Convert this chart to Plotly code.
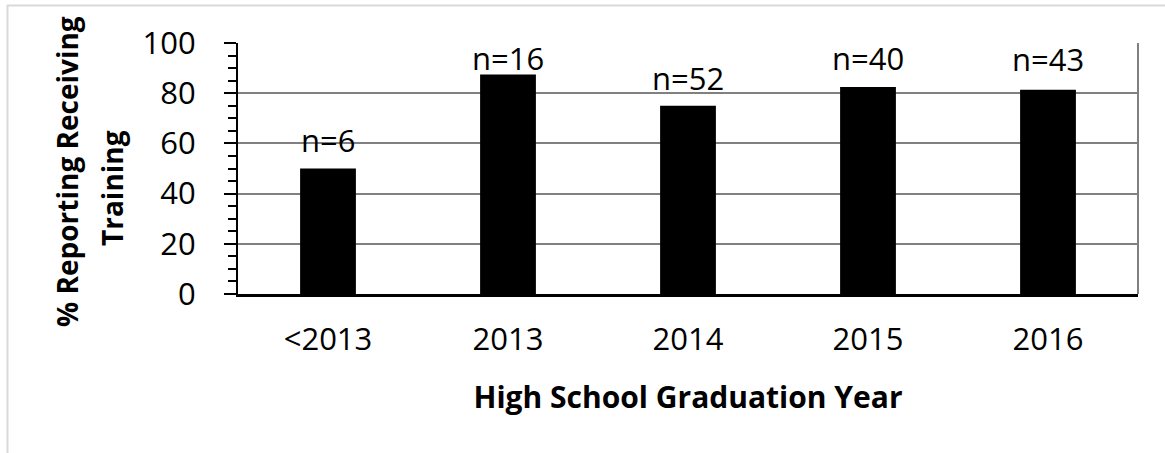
import plotly.graph_objects as go

categories = ["<2013", "2013", "2014", "2015", "2016"]
pct_training = [50.0, 87.5, 75.0, 82.5, 81.4]
n_labels = ["n=6", "n=16", "n=52", "n=40", "n=43"]
y_ticks = [0, 20, 40, 60, 80, 100]
y_title_lines = ["% Reporting Receiving", "Training"]
x_title = "High School Graduation Year"

# pixel gap between bar top and label baseline (style)
label_gap = [15, 2.5, 14, 14.5, 17]

FONT = "Open Sans, Liberation Sans, sans-serif"
W, H = 1165, 453
ML, MR, MT, MB = 238, 27, 43, 159
pw = W - ML - MR
ph = H - MT - MB


def px_x(px):
    return (px - ML) / pw


def px_y(py):
    return (MT + ph - py) / ph


fig = go.Figure()
fig.add_trace(go.Bar(
    x=categories, y=pct_training,
    marker=dict(color="black", line=dict(width=0)),
    width=0.31, hoverinfo="skip",
))

DESC = 9  # approx distance from text box bottom to baseline
for i, (v, t, g) in enumerate(zip(pct_training, n_labels, label_gap)):
    # x given as category index on the category axis
    fig.add_annotation(x=i, y=v, text=t, showarrow=False, xanchor="center",
                       yanchor="bottom", yshift=g - DESC,
                       font=dict(family=FONT, size=31, color="black"))

# y-axis title (two rotated lines)
for t, (cx, cy) in zip(y_title_lines, [(67, 172), (112, 188)]):
    fig.add_annotation(xref="paper", yref="paper", x=px_x(cx), y=px_y(cy),
                       text="<b>" + t + "</b>", textangle=-90, showarrow=False,
                       xanchor="center", yanchor="middle",
                       font=dict(family=FONT, size=28, color="black"))

# outer light frame
fig.add_shape(type="rect", xref="paper", yref="paper",
              x0=px_x(7.5), x1=px_x(1180),
              y0=px_y(470), y1=px_y(5.5),
              line=dict(color="#d9d9d9", width=2), fillcolor="rgba(0,0,0,0)", layer="below")
# right border of plot area
fig.add_shape(type="line", xref="paper", yref="paper", x0=1, x1=1, y0=0, y1=1,
              line=dict(color="#808080", width=2))

fig.update_layout(
    width=W, height=H,
    margin=dict(l=ML, r=MR, t=MT, b=MB, pad=0),
    paper_bgcolor="white", plot_bgcolor="white",
    showlegend=False,
    bargap=0.69,
    font=dict(family=FONT, size=31, color="black"),
)
fig.update_xaxes(
    type="category", categoryorder="array", categoryarray=categories,
    range=[-0.5, len(categories) - 0.5],
    showline=True, linecolor="black", linewidth=2.5,
    ticks="", showgrid=False,
    tickfont=dict(family=FONT, size=31, color="black"),
    ticklabelstandoff=16,
    title=dict(text="<b>" + x_title + "</b>",
               font=dict(family=FONT, size=30, color="black"), standoff=30),
)
fig.update_yaxes(
    range=[0, 100], tickvals=y_ticks,
    showline=True, linecolor="black", linewidth=2,
    ticks="outside", ticklen=12, tickwidth=1.5, tickcolor="black",
    minor=dict(dtick=5, ticks="outside", ticklen=8, tickwidth=1.5, tickcolor="black", showgrid=False),
    showgrid=True, gridcolor="#808080", gridwidth=1.5,
    zeroline=False,
    tickfont=dict(family=FONT, size=31, color="black"),
    ticklabelstandoff=22,
)

fig.write_html("out.html")
